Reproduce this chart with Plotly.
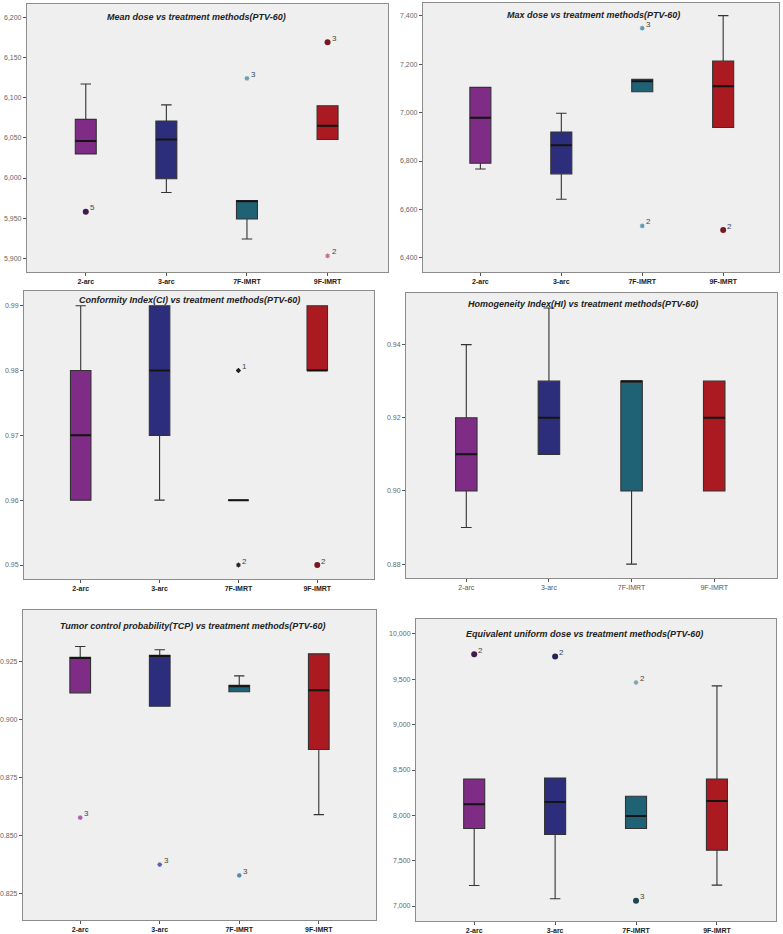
import plotly.graph_objects as go

W, H = 783, 934

categories = ["2-arc", "3-arc", "7F-IMRT", "9F-IMRT"]

# ---- Mean dose ----
mean_q1 = [6030, 5999, 5949, 6048]
mean_med = [6046, 6048, 5971, 6065]
mean_q3 = [6073, 6071, 5972, 6090]
mean_lo = [6030, 5982, 5924, 6048]
mean_hi = [6117, 6091, 5972, 6090]
mean_out_cat = ["2-arc", "7F-IMRT", "9F-IMRT", "9F-IMRT"]
mean_out_val = [5958, 6124, 6169, 5903]
mean_out_lab = ["5", "3", "3", "2"]
mean_out_kind = ["o", "*", "o", "*"]

# ---- Max dose ----
max_q1 = [6791, 6747, 7086, 6938]
max_med = [6979, 6865, 7129, 7108]
max_q3 = [7104, 6920, 7137, 7212]
max_lo = [6767, 6642, 7086, 6938]
max_hi = [7104, 6997, 7137, 7400]
max_out_cat = ["7F-IMRT", "7F-IMRT", "9F-IMRT"]
max_out_val = [7348, 6532, 6515]
max_out_lab = ["3", "2", "2"]
max_out_kind = ["*", "*", "o"]

# ---- Conformity index ----
ci_q1 = [0.96, 0.97, 0.96, 0.98]
ci_med = [0.97, 0.98, 0.96, 0.98]
ci_q3 = [0.98, 0.99, 0.96, 0.99]
ci_lo = [0.96, 0.96, 0.96, 0.98]
ci_hi = [0.99, 0.99, 0.96, 0.99]
ci_out_cat = ["7F-IMRT", "7F-IMRT", "9F-IMRT"]
ci_out_val = [0.98, 0.95, 0.95]
ci_out_lab = ["1", "2", "2"]
ci_out_kind = ["*", "*", "o"]

# ---- Homogeneity index ----
hi_q1 = [0.90, 0.91, 0.90, 0.90]
hi_med = [0.91, 0.92, 0.93, 0.92]
hi_q3 = [0.92, 0.93, 0.93, 0.93]
hi_lo = [0.89, 0.91, 0.88, 0.90]
hi_hi = [0.94, 0.95, 0.93, 0.93]
hi_out_cat = []
hi_out_val = []
hi_out_lab = []
hi_out_kind = []

# ---- Tumor control probability ----
tcp_q1 = [0.9113, 0.9055, 0.9118, 0.8869]
tcp_med = [0.9263, 0.9272, 0.9141, 0.9124]
tcp_q3 = [0.9266, 0.9275, 0.9146, 0.9281]
tcp_lo = [0.9113, 0.9055, 0.9118, 0.8588]
tcp_hi = [0.9313, 0.9299, 0.9186, 0.9281]
tcp_out_cat = ["2-arc", "3-arc", "7F-IMRT"]
tcp_out_val = [0.8575, 0.8373, 0.8326]
tcp_out_lab = ["3", "3", "3"]
tcp_out_kind = ["*", "*", "*"]

# ---- Equivalent uniform dose ----
eud_q1 = [7855, 7789, 7855, 7616]
eud_med = [8122, 8148, 7994, 8159]
eud_q3 = [8401, 8412, 8210, 8401]
eud_lo = [7227, 7081, 7855, 7231]
eud_hi = [8401, 8412, 8210, 9428]
eud_out_cat = ["2-arc", "3-arc", "7F-IMRT", "7F-IMRT"]
eud_out_val = [9776, 9751, 9465, 7059]
eud_out_lab = ["2", "2", "2", "3"]
eud_out_kind = ["o", "o", "*", "o"]

# ---- styles ----
box_colors = ["#7E2C85", "#2C2E7B", "#1F6276", "#AA1A20"]
circle_colors = {"2-arc": "#3F1C4A", "3-arc": "#22235A", "7F-IMRT": "#1C4652", "9F-IMRT": "#7A1722"}
star_colors_by_panel = [
    {"7F-IMRT": "#6E9EAA", "9F-IMRT": "#C7708A"},
    {"7F-IMRT": "#5B9AB0"},
    {"7F-IMRT": "#222222"},
    {},
    {"2-arc": "#B25AB5", "3-arc": "#5561B5", "7F-IMRT": "#4F8CB5"},
    {"7F-IMRT": "#7FA3AC"},
]

panels = [
    dict(title="Mean dose vs treatment methods(PTV-60)",
         q1=mean_q1, med=mean_med, q3=mean_q3, lo=mean_lo, hi=mean_hi,
         oc=mean_out_cat, ov=mean_out_val, ol=mean_out_lab, ok=mean_out_kind,
         px=(25, 387), py=(4, 272), xr=[-0.73, 3.75], yr=[5883, 6216.6],
         tick0=5900, dtick=50, fmt=",d", tx=195, ty=17, bold=True),
    dict(title="Max dose vs treatment methods(PTV-60)",
         q1=max_q1, med=max_med, q3=max_q3, lo=max_lo, hi=max_hi,
         oc=max_out_cat, ov=max_out_val, ol=max_out_lab, ok=max_out_kind,
         px=(422, 779), py=(3, 272), xr=[-0.71, 3.69], yr=[6342, 7452],
         tick0=6400, dtick=200, fmt=",d", tx=593, ty=15, bold=True),
    dict(title="Conformity Index(CI) vs treatment methods(PTV-60)",
         q1=ci_q1, med=ci_med, q3=ci_q3, lo=ci_lo, hi=ci_hi,
         oc=ci_out_cat, ov=ci_out_val, ol=ci_out_lab, ok=ci_out_kind,
         px=(22, 373), py=(290.7, 579), xr=[-0.72, 3.72], yr=[0.94784, 0.99231],
         tick0=0.95, dtick=0.01, fmt=".2f", tx=188, ty=300, bold=True),
    dict(title="Homogeneity Index(HI) vs treatment methods(PTV-60)",
         q1=hi_q1, med=hi_med, q3=hi_q3, lo=hi_lo, hi=hi_hi,
         oc=hi_out_cat, ov=hi_out_val, ol=hi_out_lab, ok=hi_out_kind,
         px=(405, 777), py=(293, 578), xr=[-0.73, 3.76], yr=[0.8762, 0.9541],
         tick0=0.88, dtick=0.02, fmt=".2f", tx=582, ty=304, bold=False),
    dict(title="Tumor control probability(TCP) vs treatment methods(PTV-60)",
         q1=tcp_q1, med=tcp_med, q3=tcp_q3, lo=tcp_lo, hi=tcp_hi,
         oc=tcp_out_cat, ov=tcp_out_val, ol=tcp_out_lab, ok=tcp_out_kind,
         px=(21, 375), py=(610, 920), xr=[-0.72, 3.72], yr=[0.8134, 0.9470],
         tick0=0.825, dtick=0.025, fmt=".3f", tx=191, ty=626, bold=True),
    dict(title="Equivalent uniform dose vs treatment methods(PTV-60)",
         q1=eud_q1, med=eud_med, q3=eud_q3, lo=eud_lo, hi=eud_hi,
         oc=eud_out_cat, ov=eud_out_val, ol=eud_out_lab, ok=eud_out_kind,
         px=(415, 776), py=(619, 921), xr=[-0.72, 3.73], yr=[6835, 10165],
         tick0=7000, dtick=500, fmt=",d", tx=584, ty=634, bold=True),
]

fig = go.Figure()
layout = dict(width=W, height=H, margin=dict(l=0, r=0, t=0, b=0),
              paper_bgcolor="white", plot_bgcolor="#EFEFEF",
              showlegend=False, boxmode="overlay",
              font=dict(family="Liberation Sans, Arial, sans-serif"))
annotations = []

for i, p in enumerate(panels):
    n = i + 1
    xa = "x" if n == 1 else f"x{n}"
    ya = "y" if n == 1 else f"y{n}"
    # boxes
    for j, cat in enumerate(categories):
        fig.add_trace(go.Box(
            x=[cat], q1=[p["q1"][j]], median=[p["med"][j]], q3=[p["q3"][j]],
            lowerfence=[p["lo"][j]], upperfence=[p["hi"][j]],
            width=0.26, whiskerwidth=0.5, boxpoints=False,
            fillcolor=box_colors[j], line=dict(color="#333333", width=1.1),
            hoverinfo="skip", xaxis=xa, yaxis=ya))
        # thicker median line
        fig.add_trace(go.Box(
            x=[cat], q1=[p["med"][j]], median=[p["med"][j]], q3=[p["med"][j]],
            lowerfence=[p["med"][j]], upperfence=[p["med"][j]],
            width=0.26, whiskerwidth=0, boxpoints=False,
            fillcolor="rgba(0,0,0,0)", line=dict(color="#141414", width=2),
            hoverinfo="skip", xaxis=xa, yaxis=ya))
    # outliers
    for cat, val, lab, kind in zip(p["oc"], p["ov"], p["ol"], p["ok"]):
        if kind == "o":
            marker = dict(symbol="circle", size=6, color=circle_colors[cat])
        else:
            col = star_colors_by_panel[i].get(cat, "#777777")
            marker = dict(symbol="asterisk", size=4, color=col,
                          line=dict(color=col, width=1.1))
        fig.add_trace(go.Scatter(
            x=[cat], y=[val], mode="markers", marker=marker,
            hoverinfo="skip", xaxis=xa, yaxis=ya))
        annotations.append(dict(
            text=lab, xref=xa, yref=ya, x=cat, y=val,
            xanchor="left", yanchor="middle", xshift=2, yshift=4,
            showarrow=False, font=dict(size=8, color="#444444")))

    x0, x1 = p["px"]
    y0, y1 = p["py"]
    xdom = [x0 / W, x1 / W]
    ydom = [1 - y1 / H, 1 - y0 / H]
    xkey = "xaxis" if n == 1 else f"xaxis{n}"
    ykey = "yaxis" if n == 1 else f"yaxis{n}"
    layout[xkey] = dict(
        domain=xdom, anchor=ya, type="category",
        categoryorder="array", categoryarray=categories, range=p["xr"],
        showline=True, mirror=True, linecolor="#8C8C8C", linewidth=1,
        showgrid=False, zeroline=False, ticks="outside", ticklen=3,
        tickcolor="#555555",
        tickfont=dict(size=7, color="#222222" if p["bold"] else "#555555",
                      weight="bold" if p["bold"] else "normal"))
    layout[ykey] = dict(
        domain=ydom, anchor=xa, range=p["yr"],
        tick0=p["tick0"], dtick=p["dtick"], tickformat=p["fmt"],
        showline=True, mirror=True, linecolor="#8C8C8C", linewidth=1,
        showgrid=False, zeroline=False, ticks="outside", ticklen=3,
        tickcolor="#555555", tickfont=dict(size=7, color="#666666"))
    annotations.append(dict(
        text="<b><i>" + p["title"] + "</i></b>", xref="paper", yref="paper",
        x=p["tx"] / W, y=1 - p["ty"] / H, xanchor="center", yanchor="middle",
        showarrow=False, font=dict(size=9, color="#222222")))

layout["annotations"] = annotations
fig.update_layout(**layout)
fig.write_html("out.html", config={"displayModeBar": False},
               post_script="document.body.style.margin='0px';document.body.style.overflow='hidden';")
